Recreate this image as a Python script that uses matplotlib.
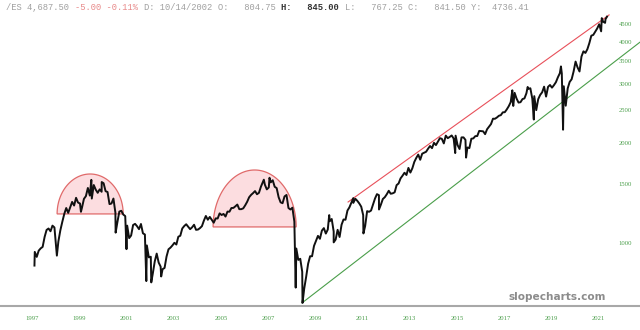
import matplotlib
matplotlib.use("Agg")
import matplotlib.pyplot as plt
from matplotlib.ticker import NullLocator
import numpy as np

# monthly closes, Sep 1997 .. Dec 2021 (month-end)
closes = [
    947, 915, 955, 970,
    980, 1049, 1101, 1112, 1091, 1134, 1120, 957, 1017, 1098, 1164, 1229,
    1280, 1238, 1286, 1335, 1302, 1373, 1329, 1320, 1283, 1363, 1389, 1469,
    1394, 1366, 1499, 1452, 1421, 1455, 1431, 1518, 1437, 1429, 1315, 1320,
    1366, 1240, 1160, 1249, 1256, 1224, 1211, 1134, 1041, 1060, 1139, 1148,
    1130, 1107, 1147, 1076, 1067, 990, 912, 916, 815, 886, 936, 880,
    856, 841, 848, 917, 964, 975, 990, 1008, 996, 1051, 1058, 1112,
    1131, 1145, 1126, 1107, 1121, 1141, 1102, 1104, 1115, 1130, 1174, 1212,
    1181, 1204, 1181, 1157, 1192, 1191, 1234, 1220, 1229, 1207, 1249, 1248,
    1280, 1281, 1295, 1311, 1270, 1270, 1277, 1304, 1336, 1378, 1401, 1418,
    1438, 1407, 1421, 1482, 1531, 1503, 1455, 1474, 1527, 1549, 1481, 1468,
    1379, 1331, 1323, 1386, 1400, 1280, 1267, 1283, 1166, 969, 896, 903,
    826, 735, 798, 873, 919, 919, 987, 1021, 1057, 1036, 1096, 1115,
    1074, 1104, 1169, 1187, 1089, 1031, 1102, 1049, 1141, 1183, 1181, 1258,
    1286, 1327, 1326, 1364, 1345, 1321, 1292, 1219, 1131, 1253, 1247, 1258,
    1312, 1366, 1408, 1398, 1310, 1362, 1379, 1407, 1441, 1412, 1416, 1426,
    1498, 1515, 1569, 1598, 1631, 1606, 1686, 1633, 1682, 1757, 1806, 1848,
    1783, 1859, 1872, 1884, 1924, 1960, 1931, 2003, 1972, 2018, 2068, 2059,
    1995, 2105, 2068, 2086, 2107, 2063, 2104, 1972, 1920, 2079, 2080, 2044,
    1940, 1932, 2060, 2065, 2097, 2099, 2174, 2171, 2168, 2126, 2199, 2239,
    2279, 2364, 2363, 2384, 2412, 2423, 2470, 2472, 2519, 2575, 2648, 2674,
    2824, 2714, 2641, 2648, 2705, 2718, 2816, 2902, 2914, 2712, 2760, 2507,
    2704, 2784, 2834, 2946, 2752, 2942, 2980, 2926, 2977, 3038, 3141, 3231,
    3226, 2954, 2585, 2912, 3044, 3100, 3271, 3500, 3363, 3270, 3622, 3756,
    3714, 3811, 3973, 4181, 4204, 4298, 4395, 4523, 4308, 4605, 4567, 4766,
]
first_month = 1997 + 9 / 12

# intra-month highs/lows that stick out of the line
spike_t = [1997.82, 1998.77, 1999.79, 2000.23, 2000.67, 2001.26, 2001.72,
           2002.56, 2002.77, 2003.19, 2007.54, 2007.78, 2008.89, 2009.18,
           2010.31, 2010.50, 2011.33, 2011.76, 2012.42, 2015.65, 2016.11,
           2018.07, 2018.11, 2018.72, 2018.98, 2020.13, 2020.22, 2021.86,
           2022.02]
spike_v = [862, 923, 1247, 1553, 1530, 1081, 965,
           775, 768, 800, 1555, 1576, 741, 667,
           1219, 1011, 1370, 1075, 1267, 1867, 1810,
           2873, 2581, 2940, 2351, 3386, 2192, 4718,
           4687]

LAG = 0.72  # chart's year labels sit ~0.7 yr right of the bars

# trend lines and the two rounded tops
red_x, red_y = [2010.39, 2021.45], [1334, 4823]
green_x, green_y = [2008.44, 2022.76], [667, 4000]
dome_cx = [1999.46, 2006.43]
dome_hw = [1.40, 1.76]
dome_base = [1229, 1124]
dome_top = [1617, 1662]

year_ticks = list(range(1997, 2022, 2))
price_ticks = [1000, 1500, 2000, 2500, 3000, 3500, 4000, 4500]

header = [("/ES ", "#a0a0a0", "normal"), ("4,687.50 ", "#a0a0a0", "normal"),
          ("-5.00 -0.11% ", "#e88a8a", "normal"), ("D: 10/14/2002 ", "#a0a0a0", "normal"),
          ("O:   804.75 ", "#a0a0a0", "normal"), ("H:   845.00 ", "#333333", "bold"),
          ("L:   767.25 C:   841.50 Y:  4736.41", "#a0a0a0", "normal")]

GREEN = "#4a9e4a"

t_close = first_month + (np.arange(len(closes)) + 1) / 12
t = np.concatenate([t_close, spike_t])
v = np.concatenate([closes, spike_v])
order = np.argsort(t)
t, v = t[order] - LAG, v[order]

fig = plt.figure(figsize=(6.4, 3.3), dpi=100)
ax = fig.add_axes([0, 24 / 330, 1, 306 / 330])
ax.set_yscale("log")
ax.set_xlim(1995.64, 2022.76)
ax.set_ylim(653, 5343)

th = np.linspace(0, np.pi, 80)
for cx, hw, b, tp in zip(dome_cx, dome_hw, dome_base, dome_top):
    ax.fill(cx + hw * np.cos(th), b * (tp / b) ** np.sin(th),
            facecolor="#fcdde0", edgecolor="#e06a6a", lw=0.9, zorder=1)

ax.plot(t, v, color="#111111", lw=1.4, zorder=3)
ax.plot(red_x, red_y, color="#e8505a", lw=0.8, zorder=2)
ax.plot(green_x, green_y, color=GREEN, lw=0.8, zorder=2)

for p in price_ticks:
    ax.text(2022.13, p, str(p), ha="center", va="center", fontsize=4.8,
            color=GREEN, family="Liberation Serif")

ax.set_yticks([])
ax.yaxis.set_minor_locator(NullLocator())
ax.set_xticks(year_ticks)
ax.set_xticklabels([str(y) for y in year_ticks], fontsize=4.8, color=GREEN,
                   family="Liberation Serif")
ax.tick_params(axis="x", length=0, pad=7)
for s in ["top", "left", "right"]:
    ax.spines[s].set_visible(False)
ax.spines["bottom"].set_color("#a8a8a8")
ax.spines["bottom"].set_linewidth(1.5)

# header line, monospace so advance = 0.6 em
fs = 6.35
cw = 0.6 * fs * 100 / 72
x = 6
for txt, col, wt in header:
    fig.text(x / 640, 1 - 7 / 330, txt, fontsize=fs, color=col, weight=wt,
             family="Liberation Mono", ha="left", va="center")
    x += len(txt) * cw

fig.text(557 / 640, 1 - 297 / 330, "slopecharts.com", ha="center", va="center",
         fontsize=7.6, weight="bold", color="#8c8c8c", family="DejaVu Sans")

fig.savefig("out.png", dpi=100)
